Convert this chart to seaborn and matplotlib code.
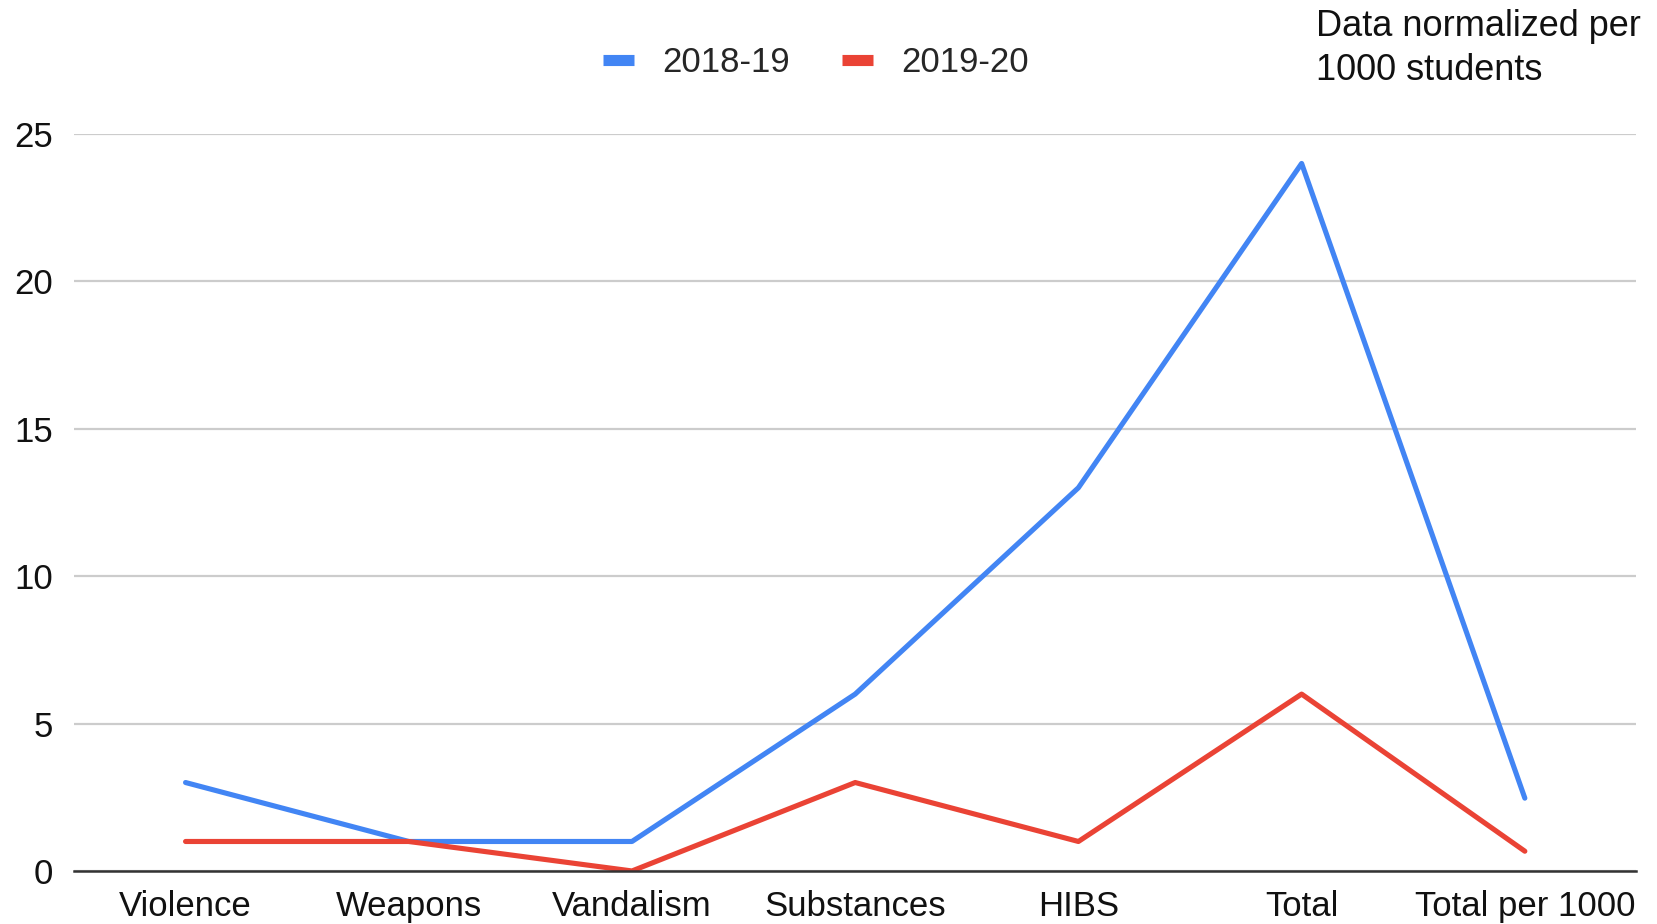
import pandas as pd
import seaborn as sns
import matplotlib.pyplot as plt
from matplotlib.lines import Line2D

# values
categories = ['Violence', 'Weapons', 'Vandalism', 'Substances', 'HIBS', 'Total', 'Total per 1000']
series_names = ['2018-19', '2019-20']
values_1819 = [3, 1, 1, 6, 13, 24, 2.47]
values_1920 = [1, 1, 0, 3, 1, 6, 0.67]
colors = ['#4285F4', '#EA4335']
y_ticks = [0, 5, 10, 15, 20, 25]

df = pd.DataFrame({
    'category': categories * 2,
    'value': values_1819 + values_1920,
    'year': [series_names[0]] * len(categories) + [series_names[1]] * len(categories),
})

sns.set_style('white')
plt.rcParams['font.family'] = ['Liberation Sans', 'DejaVu Sans']

fig = plt.figure(figsize=(16.58, 9.24), dpi=100)
ax = fig.add_axes([0.0446, 0.0574, 0.9424, 0.7976])

sns.lineplot(data=df, x='category', y='value', hue='year', palette=colors,
             sort=False, linewidth=3.7, legend=False, ax=ax)

ax.set_xlim(-0.5, len(categories) - 0.5)
ax.set_ylim(0, 25)
ax.set_yticks(y_ticks)
ax.yaxis.grid(True, color='#cccccc', linewidth=1.6)
ax.set_axisbelow(True)
ax.set_xlabel('')
ax.set_ylabel('')
for side in ['top', 'right', 'left']:
    ax.spines[side].set_visible(False)
ax.spines['bottom'].set_color('#333333')
ax.spines['bottom'].set_linewidth(1.8)
ax.tick_params(axis='both', length=0, labelsize=25, colors='#111111')
ax.tick_params(axis='y', pad=15)
ax.tick_params(axis='x', pad=14)

handles = [Line2D([], [], color=c, linewidth=8, solid_capstyle='butt') for c in colors]
fig.legend(handles, series_names, loc='center', bbox_to_anchor=(0.492, 0.932), ncol=2,
           frameon=False, fontsize=25, handlelength=0.9, handletextpad=0.8, columnspacing=1.5)

fig.text(0.794, 0.99, 'Data normalized per\n1000 students', fontsize=26, va='top', ha='left',
         linespacing=1.33, color='#111111')

plt.savefig('out.png', dpi=100)
plt.close()
